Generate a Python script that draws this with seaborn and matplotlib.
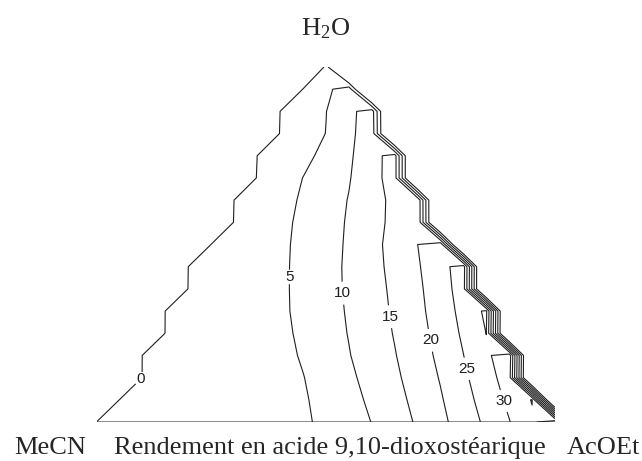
import numpy as np
import matplotlib
matplotlib.use("Agg")
import matplotlib.pyplot as plt
import matplotlib.tri as mtri
import seaborn as sns

# Yield (%) of 9,10-dioxostearic acid on a 10 % simplex lattice.
# One list per water fraction; entries run from 0 % AcOEt (MeCN/H2O side)
# in 10 % AcOEt steps up to the AcOEt/H2O side.
water_levels = [0.0, 0.1, 0.2, 0.3, 0.4, 0.5, 0.6, 0.7, 0.8, 0.9, 1.0]
yield_w00 = [0.5, 0.7, 1.2, 2.1, 3.3, 5.9, 10.1, 15.6, 22.3, 29.8, 38.5]
yield_w10 = [0.5, 0.9, 1.5, 2.7, 4.7, 8.9, 13.9, 20.0, 27.7, 36.0]
yield_w20 = [0.5, 1.0, 2.0, 3.7, 7.7, 12.3, 17.8, 25.1, 33.5]
yield_w30 = [0.5, 1.2, 2.6, 6.1, 10.4, 15.6, 22.2, 30.8]
yield_w40 = [0.5, 1.5, 4.2, 8.4, 13.3, 19.2, 27.3]
yield_w50 = [0.5, 2.2, 6.2, 10.6, 16.7, 23.5]
yield_w60 = [0.6, 3.7, 7.9, 13.1, 19.0]
yield_w70 = [0.7, 4.9, 9.6, 17.2]
yield_w80 = [0.9, 5.2, 13.0]
yield_w90 = [1.2, 8.5]
yield_w100 = [2.0]
yield_rows = [yield_w00, yield_w10, yield_w20, yield_w30, yield_w40, yield_w50,
              yield_w60, yield_w70, yield_w80, yield_w90, yield_w100]

contour_levels = [0, 5, 10, 15, 20, 25, 30, 35]
outside_value = -20.0
corner_left = "MeCN"
corner_right = "AcOEt"
corner_top = "H$_2$O"
chart_title = "Rendement en acide 9,10-dioxostéarique"

sns.set_theme(style="white")
plt.rcParams["font.family"] = ["Liberation Sans", "DejaVu Sans"]
plt.rcParams["mathtext.fontset"] = "custom"
plt.rcParams["mathtext.rm"] = "Liberation Serif"
plt.rcParams["mathtext.it"] = "Liberation Serif:italic"

# Lattice points in the plane: x runs MeCN -> AcOEt along the base, y is the water fraction
px, py, pz = [], [], []
for w, row in zip(water_levels, yield_rows):
    for j, z in enumerate(row):
        a = j * 0.1
        px.append(a + w / 2.0)
        py.append(w)
        pz.append(z)
tri = mtri.Triangulation(px, py)
interp = mtri.CubicTriInterpolator(tri, pz, kind="geom")

# Plotting grid: 5 % steps along the base, 16 rows up the height
gx = np.linspace(0.0, 1.0, 21)
gy = np.linspace(0.0, 1.0, 17)
GX, GY = np.meshgrid(gx, gy)

# grid nodes that belong to the composition domain
inside = (GX >= 0.456 * GY - 1e-9) & (GX <= 1.0 - 0.456 * GY + 1e-9)

# nodes just beyond a side are extended from the nearest point on the side
XC = np.clip(GX, GY / 2.0, 1.0 - GY / 2.0)
YC = GY.copy()
XC = XC + (0.5 - XC) * 1e-6
YC = YC + (1.0 / 3.0 - YC) * 1e-6
Zc = np.ma.filled(interp(XC, YC), 0.1)
dzdx, _ = interp.gradient(XC, YC)
Zin = Zc + np.ma.filled(dzdx, 0.0) * (GX - XC)
Z = np.where(inside, np.maximum(Zin, 0.1), outside_value)

fig = plt.figure(figsize=(6.42, 4.61), dpi=100)
ax = fig.add_axes([97 / 642, 39 / 461, 458 / 642, 355 / 461])
ax.set_xlim(0, 1)
ax.set_ylim(0, 1)
ax.axis("off")

# Base of the triangle
sns.lineplot(x=[0.0, 1.0], y=[0.0, 0.0], ax=ax, color="#8a8a8a", linewidth=1.4,
             legend=False)

cs = ax.contour(GX, GY, Z, levels=contour_levels, colors="#1f1f1f",
                linewidths=0.8)
label_spots = [(0.094, 0.124), (0.419, 0.4085), (0.5415, 0.3634), (0.6354, 0.2958),
               (0.7314, 0.2310), (0.8057, 0.1493), (0.8886, 0.0592)]
texts = ax.clabel(cs, fmt="%d", fontsize=11, inline=True, inline_spacing=3,
                  manual=label_spots)
for t in texts:
    t.set_rotation(0)

serif = "Liberation Serif"
fig.text(326 / 642, 1 - 35 / 461, corner_top, ha="center", va="baseline",
         family=serif, fontsize=19)
fig.text(50 / 642, 1 - 454 / 461, corner_left, ha="center", va="baseline",
         family=serif, fontsize=19)
fig.text(330 / 642, 1 - 454 / 461, chart_title, ha="center", va="baseline",
         family=serif, fontsize=19)
fig.text(603 / 642, 1 - 454 / 461, corner_right, ha="center", va="baseline",
         family=serif, fontsize=19)

fig.savefig("out.png", dpi=100, facecolor="white")
